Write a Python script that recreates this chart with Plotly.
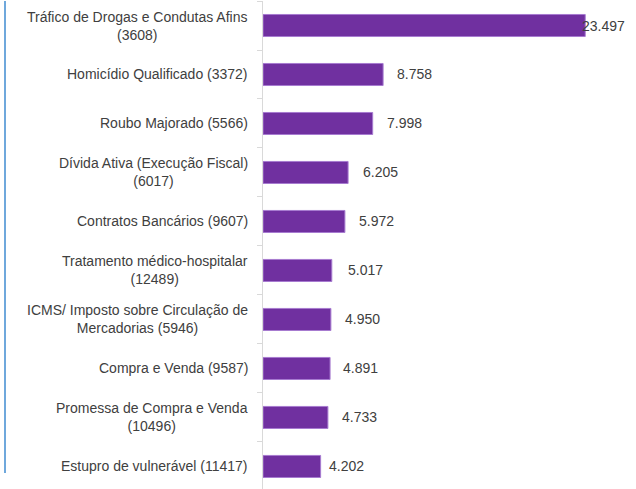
import plotly.graph_objects as go

categories = [
    "Tráfico de Drogas e Condutas Afins<br>(3608)",
    "Homicídio Qualificado (3372)",
    "Roubo Majorado (5566)",
    "Dívida Ativa (Execução Fiscal)<br>(6017)",
    "Contratos Bancários (9607)",
    "Tratamento médico-hospitalar<br>(12489)",
    "ICMS/ Imposto sobre Circulação de<br>Mercadorias (5946)",
    "Compra e Venda (9587)",
    "Promessa de Compra e Venda<br>(10496)",
    "Estupro de vulnerável (11417)",
]
values = [23.497, 8.758, 7.998, 6.205, 5.972, 5.017, 4.950, 4.891, 4.733, 4.202]
value_labels = ["23.497", "8.758", "7.998", "6.205", "5.972", "5.017", "4.950", "4.891", "4.733", "4.202"]

# label offsets from bar end (style, px)
label_shift = [-5, 12, 12, 13, 12, 14, 12, 11, 12, 6]

FONT = "Liberation Sans, Arial, sans-serif"
TXT = "#404040"

fig = go.Figure(go.Bar(
    x=values, y=categories, orientation="h",
    marker=dict(color="#7030A0", line=dict(color="#A77BD0", width=1)),
    width=0.45, hoverinfo="skip",
))

annotations = []
for c, v, t, s in zip(categories, values, value_labels, label_shift):
    annotations.append(dict(x=0, xref="paper", y=c, yref="y", text=c, showarrow=False,
                            xanchor="right", align="center", xshift=-13,
                            font=dict(family=FONT, size=14, color=TXT)))
    annotations.append(dict(x=v, xref="x", y=c, yref="y", text=t, showarrow=False,
                            xanchor="left", xshift=s,
                            font=dict(family=FONT, size=14, color=TXT)))

fig.update_layout(
    width=636, height=489,
    margin=dict(l=263, r=0, t=1, b=0),
    plot_bgcolor="white", paper_bgcolor="white",
    showlegend=False,
    annotations=annotations,
    xaxis=dict(range=[0, 27.2], visible=False, fixedrange=True),
    yaxis=dict(type="category", range=[9.46, -0.5], showticklabels=False,
               tickson="boundaries", ticks="outside", ticklen=5, tickcolor="#d9d9d9",
               showline=True, linecolor="#d9d9d9", linewidth=1, showgrid=False,
               automargin=False, fixedrange=True),
    shapes=[dict(type="line", xref="paper", yref="paper",
                 x0=-258 / 373, x1=-258 / 373, y0=1.0, y1=(489 - 473) / 488,
                 line=dict(color="#6FA8DC", width=2))],
)

fig.write_html("out.html", config={"displayModeBar": False},
               post_script="document.body.style.margin='0';document.body.style.overflow='hidden';")
